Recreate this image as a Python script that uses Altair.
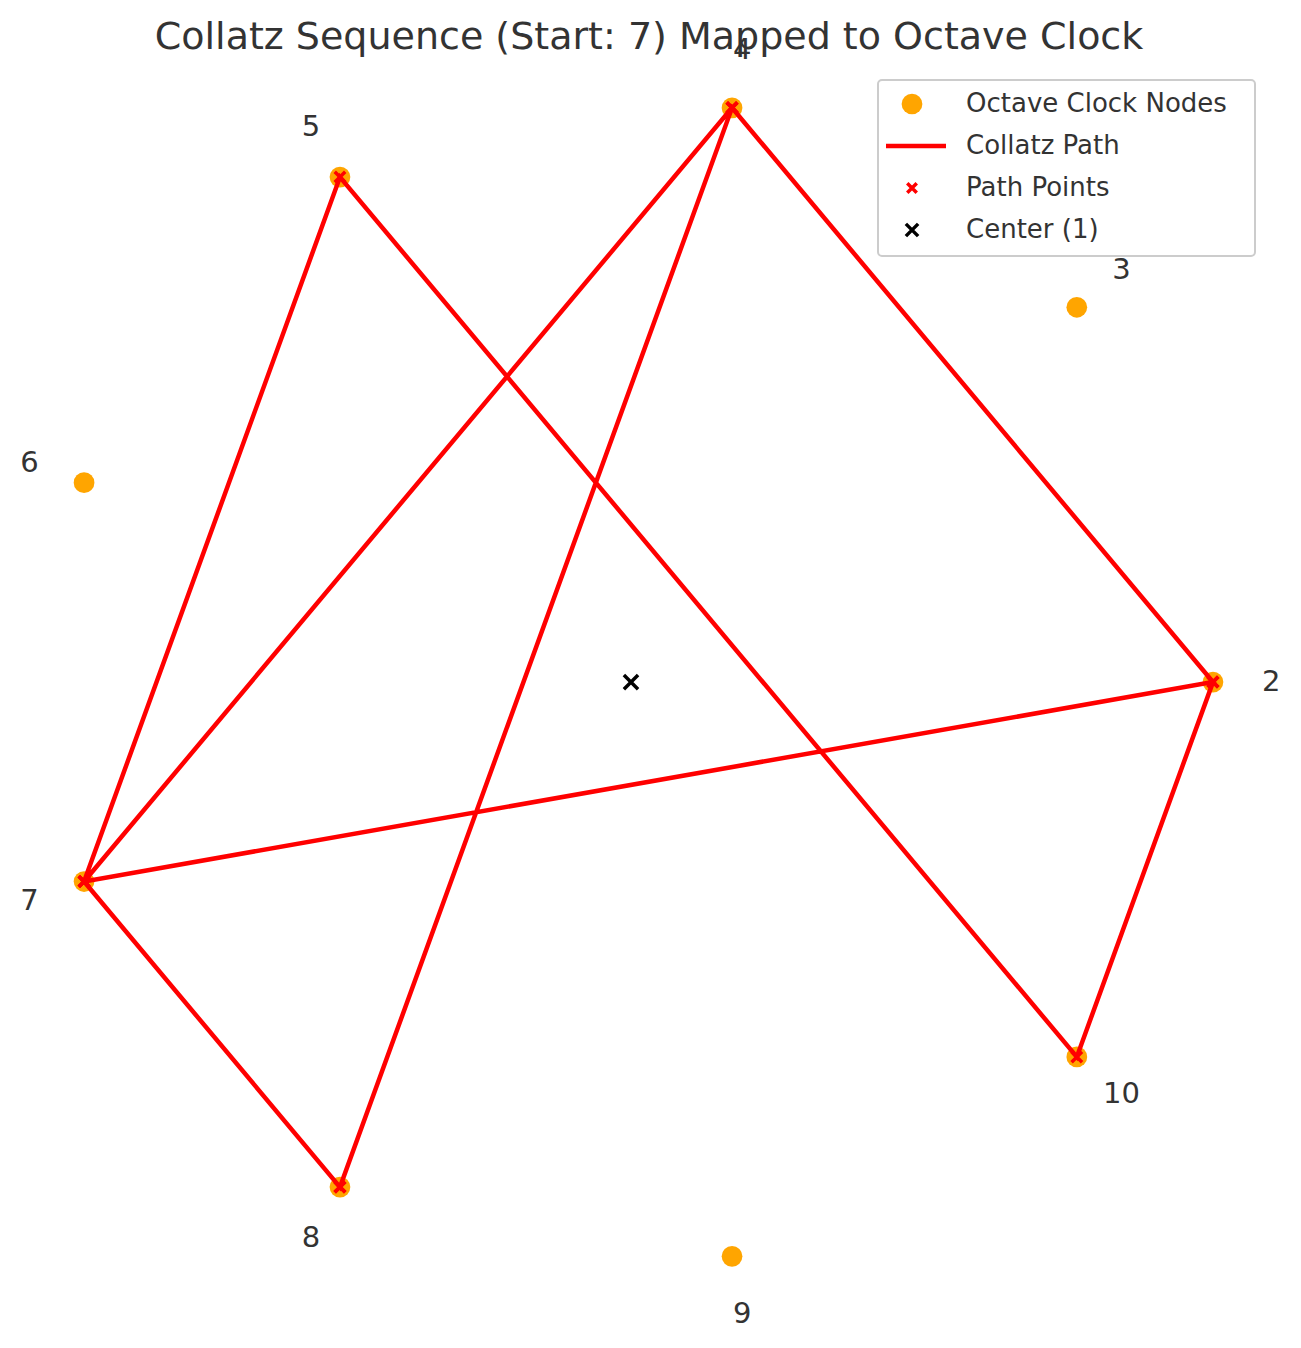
import numpy as np
import pandas as pd
import altair as alt

nodes = [2, 3, 4, 5, 6, 7, 8, 9, 10]
path = [7, 4, 2, 7, 8, 7, 8, 4, 4, 2, 10, 5, 7, 8, 4, 2]
legend_labels = ["Octave Clock Nodes", "Collatz Path", "Path Points", "Center (1)"]

def pos(n, r=1.0):
    a = np.deg2rad((n - 2) * 40)
    return r * np.cos(a), r * np.sin(a)

node_df = pd.DataFrame({"n": nodes})
node_df["x"], node_df["y"] = zip(*[pos(n) for n in nodes])
node_df["lx"], node_df["ly"] = zip(*[pos(n, 1.1) for n in nodes])

path_df = pd.DataFrame({"n": path, "order": range(len(path))})
path_df["x"], path_df["y"] = zip(*[pos(n) for n in path])

center_df = pd.DataFrame({"x": [0.0], "y": [0.0]})

X_SHAPE = "M-1,-1L1,1M1,-1L-1,1"
FONT = "DejaVu Sans"

W, H = 1285, 1340
xs = alt.Scale(domain=[-1.0704, 1.1375], nice=False, zero=False)
ys = alt.Scale(domain=[-1.142, 1.156], nice=False, zero=False)
X = lambda f: alt.X(f, scale=xs, axis=None)
Y = lambda f: alt.Y(f, scale=ys, axis=None)

dots = alt.Chart(node_df).mark_circle(color="orange", opacity=1, size=430).encode(x=X("x:Q"), y=Y("y:Q"))
labels = alt.Chart(node_df).mark_text(fontSize=29, color="#333", font=FONT).encode(
    x=X("lx:Q"), y=Y("ly:Q"), text="n:N")
line = alt.Chart(path_df).mark_line(color="red", strokeWidth=4.5).encode(
    x=X("x:Q"), y=Y("y:Q"), order="order:Q")
pts = alt.Chart(path_df).mark_point(shape=X_SHAPE, color="red", size=110, strokeWidth=3.5, opacity=1).encode(
    x=X("x:Q"), y=Y("y:Q"))
center = alt.Chart(center_df).mark_point(shape=X_SHAPE, color="black", size=200, strokeWidth=3.5, opacity=1).encode(
    x=X("x:Q"), y=Y("y:Q"))

title = alt.Chart(pd.DataFrame({"t": ["Collatz Sequence (Start: 7) Mapped to Octave Clock"]})).mark_text(
    fontSize=38, color="#333", font=FONT).encode(x=alt.value(641), y=alt.value(30), text="t:N")

# legend
box = alt.Chart(pd.DataFrame({"a": [0]})).mark_rect(fill="white", stroke="#ccc", strokeWidth=2, cornerRadius=4).encode(
    x=alt.value(870), x2=alt.value(1247), y=alt.value(72), y2=alt.value(248))
leg_df = pd.DataFrame({"label": legend_labels, "row": range(4)})
leg_df["py"] = 96 + 42 * leg_df["row"]
leg_text = alt.Chart(leg_df).mark_text(align="left", fontSize=26, color="#333", font=FONT).encode(
    x=alt.value(958), y=alt.Y("py:Q", scale=None), text="label:N")
leg_dot = alt.Chart(leg_df[leg_df.row == 0]).mark_circle(color="orange", opacity=1, size=430).encode(
    x=alt.value(904), y=alt.Y("py:Q", scale=None))
leg_line = alt.Chart(leg_df[leg_df.row == 1]).mark_rule(color="red", strokeWidth=4.5).encode(
    x=alt.value(878), x2=alt.value(938), y=alt.Y("py:Q", scale=None))
leg_px = alt.Chart(leg_df[leg_df.row == 2]).mark_point(shape=X_SHAPE, color="red", size=90, strokeWidth=3.5, opacity=1).encode(
    x=alt.value(904), y=alt.Y("py:Q", scale=None))
leg_cx = alt.Chart(leg_df[leg_df.row == 3]).mark_point(shape=X_SHAPE, color="black", size=150, strokeWidth=3.5, opacity=1).encode(
    x=alt.value(904), y=alt.Y("py:Q", scale=None))

chart = alt.layer(dots, labels, line, pts, center, title, box, leg_text, leg_dot, leg_line, leg_px, leg_cx).properties(
    width=W, height=H, autosize="none", padding=0
).configure_view(stroke=None)

chart.save("out.html", embed_options={"renderer": "svg", "actions": False})
